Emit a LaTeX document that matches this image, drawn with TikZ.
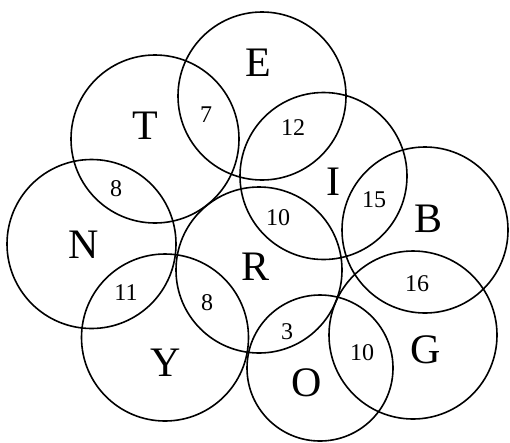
\documentclass[tikz,border=0pt]{standalone}
\usepackage{fontspec}
\setmainfont{Liberation Serif}
\usepackage{tikz}
\usetikzlibrary{positioning}
\tikzset{
  ring/.style={line width=1.6pt,black},
  bigletter/.style={inner sep=0pt,font=\fontsize{42}{42}\selectfont},
  overlap/.style={inner sep=0pt,font=\fontsize{24}{24}\selectfont}
}

\begin{document}
\begin{tikzpicture}[x=1pt,y=-1pt]
  \useasboundingbox (0,0) rectangle (510,442);
  % circles and their letters
  \foreach \name/\cx/\cy/\r/\lx/\ly in {
      E/262/96/84/258/63, T/155/139/84/145/126, I/323.5/176/83.5/333/182,
      N/91.5/244/84.5/84/245, B/425/230/83/428/219, R/259/270/83/256/267,
      Y/165/337.5/83.5/166/363, G/413/335/84/426/350, O/320/368/73/307/383}{
    \coordinate (c\name) at (\cx,\cy);
    \draw[ring] (c\name) circle (\r);
    \node[bigletter] (l\name) at (\lx,\ly) {\name};
  }
  % overlap counts
  \node[overlap] (nTE) at (206,115) {7};
  \node[overlap] (nTN) at (116,189) {8};
  \node[overlap] (nEI) at (293,128) {12};
  \node[overlap] (nIB) at (374,200) {15};
  \node[overlap] (nIR) at (278,218) {10};
  \node[overlap] (nNY) at (126,293) {11};
  \node[overlap] (nRY) at (207,303) {8};
  \node[overlap] (nBG) at (417,284) {16};
  \node[overlap] (nRO) at (287,332) {3};
  \node[overlap] (nOG) at (362,353) {10};
\end{tikzpicture}
\end{document}
